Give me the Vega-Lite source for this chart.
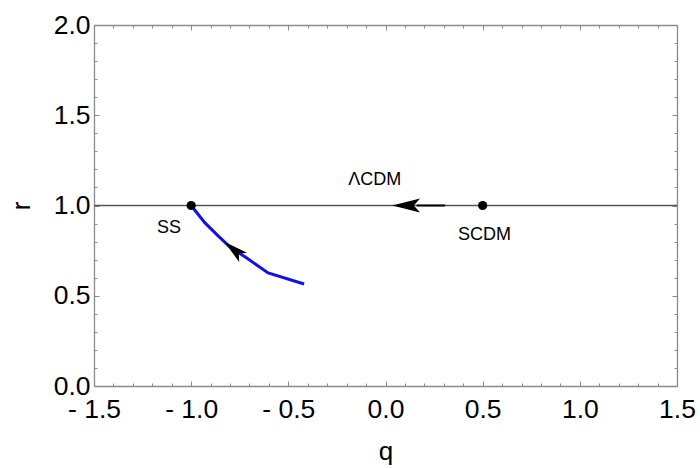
{
  "$schema": "https://vega.github.io/schema/vega-lite/v6.json",
  "width": 583,
  "height": 361,
  "autosize": "none",
  "padding": {"left": 94, "top": 25, "right": 23, "bottom": 82},
  "background": "white",
  "config": {
    "view": {"stroke": null},
    "font": "Liberation Sans",
    "axis": {
      "domainColor": "#8a8a8a",
      "domainWidth": 1.3,
      "tickColor": "#8a8a8a",
      "tickWidth": 1,
      "labelColor": "black",
      "labelFont": "Liberation Sans",
      "labelFontSize": 26.5,
      "titleFont": "Liberation Sans",
      "titleFontSize": 26,
      "titleFontWeight": "normal",
      "titleColor": "black",
      "grid": false
    }
  },
  "datasets": {
    "hline": [{"q": -1.5, "r": 1.0}, {"q": 1.5, "r": 1.0}],
    "curve": [
      {"q": -1.0, "r": 1.0},
      {"q": -0.93, "r": 0.905},
      {"q": -0.86, "r": 0.83},
      {"q": -0.8, "r": 0.77},
      {"q": -0.714, "r": 0.709},
      {"q": -0.604, "r": 0.626},
      {"q": -0.419, "r": 0.565}
    ],
    "tail": [{"q": 0.16, "r": 1.0}, {"q": 0.306, "r": 1.0}],
    "arrowLeft": [{"q": 0.106, "r": 1.0}],
    "arrowBlue": [{"q": -0.781, "r": 0.756}],
    "dots": [{"q": -1.0, "r": 1.0}, {"q": 0.5, "r": 1.0}],
    "labels": [
      {"q": -1.114, "r": 0.873, "label": "SS"},
      {"q": -0.055, "r": 1.144, "label": "ΛCDM"},
      {"q": 0.51, "r": 0.834, "label": "SCDM"}
    ]
  },
  "resolve": {"axis": {"x": "independent", "y": "independent"}},
  "layer": [
    {
      "data": {"name": "hline"},
      "mark": {"type": "line", "color": "#555555", "strokeWidth": 1.3},
      "encoding": {
        "x": {
          "field": "q", "type": "quantitative",
          "scale": {"domain": [-1.5, 1.5], "nice": false, "zero": false},
          "axis": {
            "orient": "bottom",
            "title": "q",
            "values": [-1.5,-1.4,-1.3,-1.2,-1.1,-1.0,-0.9,-0.8,-0.7,-0.6,-0.5,-0.4,-0.3,-0.2,-0.1,0,0.1,0.2,0.3,0.4,0.5,0.6,0.7,0.8,0.9,1.0,1.1,1.2,1.3,1.4,1.5],
            "labelExpr": "abs(round(datum.value*10)) % 5 == 0 ? (datum.value < -0.01 ? '- ' + format(-datum.value, '.1f') : format(datum.value, '.1f')) : ''",
            "tickSize": {"condition": {"test": "abs(round(datum.value*10)) % 5 == 0", "value": -5}, "value": -3},
            "labelPadding": 15,
            "labelOverlap": false,
            "labelFlush": false,
            "titlePadding": 14
          }
        },
        "y": {
          "field": "r", "type": "quantitative",
          "scale": {"domain": [0, 2], "nice": false, "zero": false},
          "axis": {
            "orient": "left",
            "title": "r",
            "values": [0,0.1,0.2,0.3,0.4,0.5,0.6,0.7,0.8,0.9,1.0,1.1,1.2,1.3,1.4,1.5,1.6,1.7,1.8,1.9,2.0],
            "labelExpr": "abs(round(datum.value*10)) % 5 == 0 ? format(datum.value, '.1f') : ''",
            "tickSize": {"condition": {"test": "abs(round(datum.value*10)) % 5 == 0", "value": -5}, "value": -3},
            "labelPadding": 9,
            "labelOverlap": false,
            "labelFlush": false,
            "titlePadding": 19
          }
        }
      }
    },
    {
      "data": {"name": "curve"},
      "mark": {"type": "line", "color": "#1010e8", "strokeWidth": 3},
      "encoding": {
        "x": {
          "field": "q", "type": "quantitative",
          "axis": {
            "orient": "top", "title": null, "labels": false,
            "values": [-1.5,-1.4,-1.3,-1.2,-1.1,-1.0,-0.9,-0.8,-0.7,-0.6,-0.5,-0.4,-0.3,-0.2,-0.1,0,0.1,0.2,0.3,0.4,0.5,0.6,0.7,0.8,0.9,1.0,1.1,1.2,1.3,1.4,1.5],
            "tickSize": {"condition": {"test": "abs(round(datum.value*10)) % 5 == 0", "value": -5}, "value": -3}
          }
        },
        "y": {
          "field": "r", "type": "quantitative",
          "axis": {
            "orient": "right", "title": null, "labels": false,
            "values": [0,0.1,0.2,0.3,0.4,0.5,0.6,0.7,0.8,0.9,1.0,1.1,1.2,1.3,1.4,1.5,1.6,1.7,1.8,1.9,2.0],
            "tickSize": {"condition": {"test": "abs(round(datum.value*10)) % 5 == 0", "value": -5}, "value": -3}
          }
        }
      }
    },
    {
      "data": {"name": "tail"},
      "mark": {"type": "line", "color": "black", "strokeWidth": 2},
      "encoding": {
        "x": {"field": "q", "type": "quantitative", "axis": null},
        "y": {"field": "r", "type": "quantitative", "axis": null}
      }
    },
    {
      "data": {"name": "arrowLeft"},
      "mark": {"type": "point", "shape": "M-1,0 L1,-0.5 L0.55,0 L1,0.5 Z", "filled": true, "color": "black", "opacity": 1, "size": 784, "angle": 0},
      "encoding": {
        "x": {"field": "q", "type": "quantitative", "axis": null},
        "y": {"field": "r", "type": "quantitative", "axis": null}
      }
    },
    {
      "data": {"name": "arrowBlue"},
      "mark": {"type": "point", "shape": "M-1,0 L1,-0.5 L0.55,0 L1,0.5 Z", "filled": true, "color": "black", "opacity": 1, "size": 600, "angle": 40},
      "encoding": {
        "x": {"field": "q", "type": "quantitative", "axis": null},
        "y": {"field": "r", "type": "quantitative", "axis": null}
      }
    },
    {
      "data": {"name": "dots"},
      "mark": {"type": "point", "shape": "circle", "filled": true, "color": "black", "opacity": 1, "size": 85},
      "encoding": {
        "x": {"field": "q", "type": "quantitative", "axis": null},
        "y": {"field": "r", "type": "quantitative", "axis": null}
      }
    },
    {
      "data": {"name": "labels"},
      "mark": {"type": "text", "font": "Liberation Sans", "fontSize": 18, "color": "black", "align": "center", "baseline": "middle"},
      "encoding": {
        "x": {"field": "q", "type": "quantitative", "axis": null},
        "y": {"field": "r", "type": "quantitative", "axis": null},
        "text": {"field": "label"}
      }
    }
  ]
}
